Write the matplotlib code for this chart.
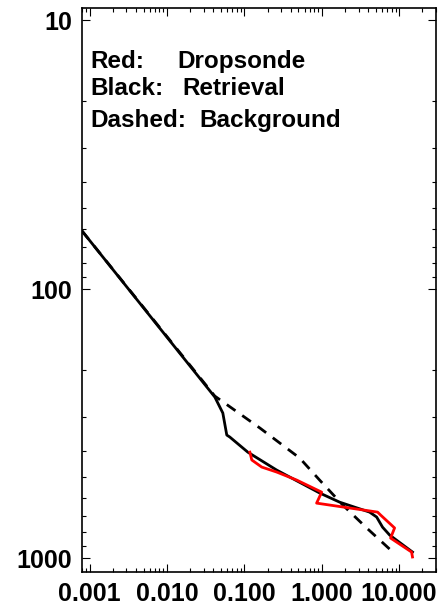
import matplotlib
matplotlib.use("Agg")
import matplotlib.pyplot as plt
from matplotlib.ticker import FixedLocator, FixedFormatter, LogLocator, NullFormatter

# Retrieval (black solid)
ret_x = [0.0008, 0.0416, 0.0528, 0.0594, 0.065, 0.111, 0.262, 0.94, 1.71, 4.16, 5.13, 6.12, 7.54, 14.9]
ret_p = [60.8, 252, 289, 349, 355, 404, 471, 573, 620, 675, 704, 768, 821, 950]

# Dropsonde (red)
drop_x = [0.118, 0.125, 0.168, 0.262, 0.475, 1.0, 0.86, 5.28, 5.77, 8.75, 7.77, 14.5, 14.9]
drop_p = [404, 432, 459, 479, 513, 569, 625, 675, 692, 773, 843, 950, 991]

# Background (black dashed)
bg_x = [0.0008, 0.0416, 0.160, 0.52, 0.94, 1.87, 3.81, 7.54]
bg_p = [60.8, 250, 329, 425, 513, 635, 773, 926]

xticks = [0.001, 0.01, 0.1, 1.0, 10.0]
xticklabels = ["0.001", "0.010", "0.100", "1.000", "10.000"]
yticks = [10, 100, 1000]
yticklabels = ["10", "100", "1000"]

plt.rcParams['font.family'] = ['Liberation Sans', 'DejaVu Sans']
plt.rcParams['font.weight'] = 'bold'

W, H = 440, 609
fig = plt.figure(figsize=(W / 100, H / 100), dpi=100)
ax = fig.add_axes([82 / W, (H - 572) / H, (436 - 82) / W, (572 - 8) / H])

ax.plot(bg_x, bg_p, color='black', lw=2.0, linestyle=(0, (3.8, 3)))
ax.plot(ret_x, ret_p, color='black', lw=2.0)
ax.plot(drop_x, drop_p, color='red', lw=2.0)

ax.set_xscale('log')
ax.set_yscale('log')
ax.set_xlim(0.0008, 30)
ax.set_ylim(1127, 9.02)

ax.xaxis.set_major_locator(FixedLocator(xticks))
ax.xaxis.set_major_formatter(FixedFormatter(xticklabels))
ax.xaxis.set_minor_locator(LogLocator(base=10, subs=range(2, 10), numticks=20))
ax.xaxis.set_minor_formatter(NullFormatter())
ax.yaxis.set_major_locator(FixedLocator(yticks))
ax.yaxis.set_major_formatter(FixedFormatter(yticklabels))
ax.yaxis.set_minor_locator(LogLocator(base=10, subs=range(2, 10), numticks=20))
ax.yaxis.set_minor_formatter(NullFormatter())

ax.tick_params(which='both', direction='in', top=True, right=True, width=0.8)
ax.tick_params(which='major', length=6)
ax.tick_params(which='minor', length=3)
ax.tick_params(axis='x', which='major', pad=7.5, labelsize=18)
ax.tick_params(axis='y', which='major', pad=7, labelsize=18)
for lab in ax.get_xticklabels() + ax.get_yticklabels():
    lab.set_fontweight('bold')
for s in ax.spines.values():
    s.set_linewidth(1.2)

def ftext(px, py, s):
    fig.text(px / W, 1 - py / H, s, fontsize=17.5, fontweight='bold', va='baseline', ha='left')

ftext(90, 68, "Red:")
ftext(177, 68, "Dropsonde")
ftext(90, 95, "Black:")
ftext(182, 95, "Retrieval")
ftext(90, 127, "Dashed:")
ftext(199, 127, "Background")

fig.savefig("out.png", dpi=100)
